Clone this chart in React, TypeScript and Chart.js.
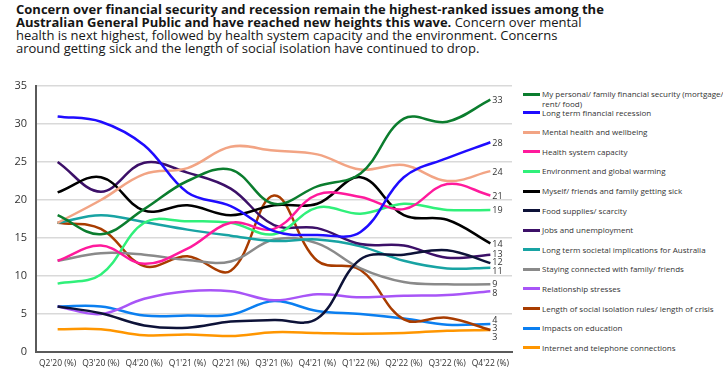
import React, { useEffect, useRef } from "react";
import { Chart, registerables } from "chart.js";

Chart.register(...registerables);

const categories = ["Q2'20 (%)", "Q3'20 (%)", "Q4'20 (%)", "Q1'21 (%)", "Q2'21 (%)", "Q3'21 (%)", "Q4'21 (%)", "Q1'22 (%)", "Q2'22 (%)", "Q3'22 (%)", "Q4'22 (%)"];

const financialSecurity = [18, 15.5, 18.8, 22.5, 24, 19.5, 21.8, 23.5, 30.7, 30.3, 33.2];
const financialRecession = [31, 30.3, 27.2, 21, 19.2, 15.9, 15.4, 15.8, 23, 25.5, 27.6];
const mentalHealth = [17, 20, 23.4, 24.2, 27, 26.5, 26, 24, 24.6, 22.5, 23.8];
const healthSystem = [12, 14, 11.6, 13.6, 17, 16.2, 20.7, 20.4, 18.8, 22.1, 20.6];
const environment = [9, 10.2, 17, 17.2, 17, 15.5, 19, 18.2, 19.5, 18.7, 18.7];
const gettingSick = [21, 23, 18.6, 19.3, 18, 19.3, 19.5, 23, 18, 17.4, 14.3];
const foodSupplies = [6, 5.1, 3.5, 3.2, 4, 4.2, 4.4, 12.2, 12.8, 13.4, 11.7];
const jobs = [25, 21.1, 24.9, 23.6, 21.5, 16.7, 16.3, 14.2, 14, 12.4, 12.8];
const societal = [17, 18, 17.1, 16.1, 15.3, 14.6, 14.8, 13.9, 12.0, 11.0, 11.1];
const stayingConnected = [12, 13, 12.8, 12.1, 11.9, 14.8, 14.3, 11, 9.2, 8.9, 8.9];
const relationship = [6, 5, 7, 8, 8, 6.8, 7.6, 7.2, 7.4, 7.5, 8];
const isolation = [17, 16.2, 11.3, 12.6, 10.7, 20.6, 12, 10.8, 4.3, 4.5, 2.9];
const education = [6, 6, 4.8, 4.8, 4.9, 6.7, 5.4, 5, 4.4, 3.6, 3.7];
const internet = [3, 3, 2.2, 2.3, 2.1, 2.6, 2.5, 2.4, 2.5, 2.8, 2.9];

const seriesNames = [
  "My personal/ family financial security (mortgage/\nrent/ food)",
  "Long term financial recession",
  "Mental health and wellbeing",
  "Health system capacity",
  "Environment and global warming",
  "Myself/ friends and family getting sick",
  "Food supplies/ scarcity",
  "Jobs and unemployment",
  "Long term societal implications for Australia",
  "Staying connected with family/ friends",
  "Relationship stresses",
  "Length of social isolation rules/ length of crisis",
  "Impacts on education",
  "Internet and telephone connections",
];

const seriesValues = [
  financialSecurity, financialRecession, mentalHealth, healthSystem, environment,
  gettingSick, foodSupplies, jobs, societal, stayingConnected, relationship,
  isolation, education, internet,
];

const seriesColors = [
  "#0b7d2e", "#1f0cff", "#f2a484", "#ff1a9c", "#30f07a",
  "#000000", "#0d1238", "#3c1068", "#18a3a3", "#8a8a8a",
  "#a855f7", "#a83c00", "#0b7ff0", "#ff9600",
];

const yTicks = [0, 5, 10, 15, 20, 25, 30, 35];

const FONT = "'Open Sans', sans-serif";

const endLabels = {
  id: "endLabels",
  afterDatasetsDraw(chart: any) {
    const ctx = chart.ctx;
    const items = chart.data.datasets
      .map((ds: any, i: number) => {
        const meta = chart.getDatasetMeta(i);
        const pt = meta.data[meta.data.length - 1];
        const v = ds.data[ds.data.length - 1];
        return { x: pt.x, y: pt.y, text: String(Math.round(v)) };
      })
      .sort((a: any, b: any) => a.y - b.y);
    const gap = 8.5;
    let clusters = items.map((it: any) => ({ items: [it], center: it.y }));
    let changed = true;
    while (changed) {
      changed = false;
      for (let i = 0; i < clusters.length - 1; i++) {
        const a = clusters[i];
        const b = clusters[i + 1];
        const aBottom = a.center + ((a.items.length - 1) * gap) / 2;
        const bTop = b.center - ((b.items.length - 1) * gap) / 2;
        if (bTop - aBottom < gap) {
          const merged = [...a.items, ...b.items];
          const center = merged.reduce((s: number, it: any) => s + it.y, 0) / merged.length;
          clusters.splice(i, 2, { items: merged, center });
          changed = true;
          break;
        }
      }
    }
    ctx.save();
    ctx.font = `9px ${FONT}`;
    ctx.fillStyle = "#333333";
    ctx.textAlign = "left";
    ctx.textBaseline = "middle";
    clusters.forEach((c: any) => {
      const n = c.items.length;
      c.items.forEach((it: any, k: number) => {
        const y = c.center + (k - (n - 1) / 2) * gap;
        ctx.fillText(it.text, it.x + 2, y + 1);
      });
    });
    ctx.restore();
  },
};

export default function App() {
  const ref = useRef<HTMLCanvasElement>(null);

  useEffect(() => {
    const chart = new Chart(ref.current as HTMLCanvasElement, {
      type: "line",
      data: {
        labels: categories,
        datasets: seriesValues.map((vals, i) => ({
          label: seriesNames[i],
          data: vals,
          borderColor: seriesColors[i],
          backgroundColor: seriesColors[i],
          borderWidth: 2.5,
          pointRadius: 0,
          tension: 0.38,
          fill: false,
        })),
      },
      options: {
        responsive: false,
        animation: false,
        layout: { padding: { top: 11, right: 8, left: 0, bottom: 0 } },
        plugins: {
          legend: { display: false },
          tooltip: { enabled: false },
          title: { display: false },
        },
        scales: {
          x: {
            offset: true,
            grid: { display: false, drawTicks: false },
            border: { display: true, color: "#5a5a5a", width: 2 },
            ticks: {
              font: { family: FONT, size: 8.5 },
              color: "#333333",
              maxRotation: 0,
              minRotation: 0,
              autoSkip: false,
              padding: 6,
            },
            afterFit: (s: any) => {
              s.height = 23;
            },
          },
          y: {
            min: yTicks[0],
            max: yTicks[yTicks.length - 1],
            afterBuildTicks: (s: any) => {
              s.ticks = yTicks.map((v) => ({ value: v }));
            },
            ticks: {
              font: { family: FONT, size: 11 },
              color: "#333333",
              padding: 9,
            },
            grid: { color: "#d9d9d9", lineWidth: 1.5, drawTicks: false },
            border: { display: true, color: "#5a5a5a", width: 2 },
            afterFit: (s: any) => {
              s.width = 36;
              s.paddingTop = 0;
              s.paddingBottom = 0;
            },
          },
        },
      },
      plugins: [endLabels],
    } as any);
    return () => chart.destroy();
  }, []);

  const legendTop = (i: number) => (i === 0 ? 94 : 112.7 + (i - 1) * 19.58);

  return (
    <div
      style={{
        position: "absolute",
        left: 0,
        top: 0,
        width: 723,
        height: 375,
        background: "#ffffff",
        overflow: "hidden",
        fontFamily: FONT,
      }}
    >
      <div
        style={{
          position: "absolute",
          left: 16,
          top: 3,
          fontSize: 13,
          lineHeight: "13px",
          color: "#161616",
          whiteSpace: "nowrap",
        }}
      >
        <b>
          Concern over financial security and recession remain the highest-ranked issues among the
          <br />
          Australian General Public and have reached new heights this wave.
        </b>{" "}
        Concern over mental
        <br />
        health is next highest, followed by health system capacity and the environment. Concerns
        <br />
        around getting sick and the length of social isolation have continued to drop.
      </div>
      <canvas
        ref={ref}
        width={520}
        height={300}
        style={{ position: "absolute", left: 0, top: 75, width: 520, height: 300 }}
      />
      {seriesNames.map((name, i) => (
        <div key={i}>
          <div
            style={{
              position: "absolute",
              left: 523,
              top: legendTop(i) - 1.5,
              width: 17,
              height: 3,
              background: seriesColors[i],
            }}
          />
          <div
            style={{
              position: "absolute",
              left: 542,
              top: legendTop(i) - 5,
              fontSize: 8,
              lineHeight: "10px",
              color: "#333333",
              whiteSpace: "pre",
            }}
          >
            {name}
          </div>
        </div>
      ))}
    </div>
  );
}
